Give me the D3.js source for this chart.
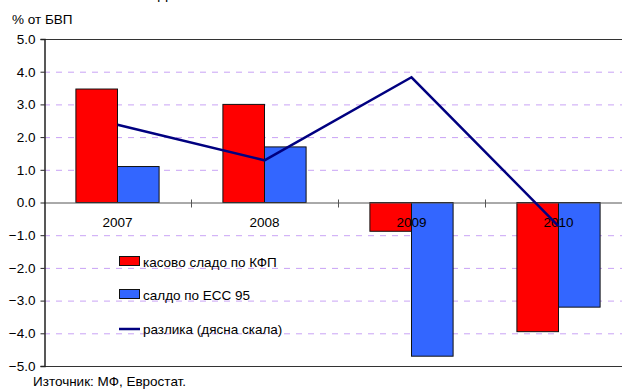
<!DOCTYPE html>
<html>
<head>
<meta charset="utf-8">
<script src="https://cdn.jsdelivr.net/npm/d3@7"></script>
<style>
  body { margin: 0; background: #fff; }
  svg { display: block; font-family: "Liberation Sans", Arial, sans-serif; }
</style>
</head>
<body>
<div id="wrapper"></div>
<script>
// data
const years = ["2007", "2008", "2009", "2010"]
const cashBalance = [3.47, 3.0, -0.88, -3.95]
const esaBalance = [1.1, 1.7, -4.7, -3.2]
const difference = [2.38, 1.29, 3.83, -0.72]
const yTicks = [5, 4, 3, 2, 1, 0, -1, -2, -3, -4, -5]
const legendLabels = ["касово сладо по КФП", "салдо по ЕСС 95", "разлика (дясна скала)"]

const width = 622
const height = 389
const margin = {top: 39, left: 44, bottom: 23}
const plotRight = 632
const fontSize = "13.5px"

const svg = d3.select("#wrapper").append("svg")
    .attr("width", width)
    .attr("height", height)

const yScale = d3.scaleLinear()
    .domain([-5, 5])
    .range([height - margin.bottom, margin.top])

const xScale = d3.scaleBand()
    .domain(years)
    .range([margin.left, plotRight])

const barW = 41.6
const innerX = d3.scaleBand()
    .domain(["cash", "esa"])
    .range([0, barW * 2])

const groupOffset = (xScale.bandwidth() - barW * 2) / 2

// gridlines
svg.append("g")
  .selectAll("line")
  .data(yTicks.filter(d => d !== 0 && d !== 5 && d !== -5))
  .join("line")
    .attr("x1", margin.left)
    .attr("x2", width)
    .attr("y1", d => yScale(d) + 0.5)
    .attr("y2", d => yScale(d) + 0.5)
    .attr("stroke", "#c9a3f5")
    .attr("stroke-dasharray", "6,6")

// top and bottom border
svg.append("line")
    .attr("x1", margin.left).attr("x2", width)
    .attr("y1", yScale(5) + 0.5).attr("y2", yScale(5) + 0.5)
    .attr("stroke", "#333")
svg.append("line")
    .attr("x1", margin.left).attr("x2", width)
    .attr("y1", yScale(-5) + 0.5).attr("y2", yScale(-5) + 0.5)
    .attr("stroke", "#333")

// bars
const series = [
  {key: "cash", values: cashBalance, color: "#ff0000"},
  {key: "esa", values: esaBalance, color: "#3366ff"}
]
series.forEach(s => {
  svg.append("g")
    .selectAll("rect")
    .data(years)
    .join("rect")
      .attr("x", (d) => xScale(d) + groupOffset + innerX(s.key))
      .attr("y", (d, i) => yScale(Math.max(0, s.values[i])))
      .attr("width", innerX.bandwidth())
      .attr("height", (d, i) => Math.abs(yScale(s.values[i]) - yScale(0)))
      .attr("fill", s.color)
      .attr("stroke", "#111")
      .attr("stroke-width", 1)
})

// zero line with category ticks
svg.append("line")
    .attr("x1", margin.left).attr("x2", width)
    .attr("y1", yScale(0) + 0.5).attr("y2", yScale(0) + 0.5)
    .attr("stroke", "#555")
svg.append("g")
  .selectAll("line")
  .data(years.slice(1))
  .join("line")
    .attr("x1", d => Math.round(xScale(d)) + 0.5)
    .attr("x2", d => Math.round(xScale(d)) + 0.5)
    .attr("y1", yScale(0) - 3)
    .attr("y2", yScale(0) + 5)
    .attr("stroke", "#555")

// category labels
svg.append("g")
  .selectAll("text")
  .data(years)
  .join("text")
    .attr("x", d => xScale(d) + xScale.bandwidth() / 2)
    .attr("y", yScale(0) + 24)
    .attr("text-anchor", "middle")
    .style("font-size", fontSize)
    .attr("fill", "#000")
    .text(d => d)

// difference line
const line = d3.line()
    .x((d, i) => xScale(years[i]) + xScale.bandwidth() / 2)
    .y(d => yScale(d))
svg.append("path")
    .datum(difference)
    .attr("d", line)
    .attr("fill", "none")
    .attr("stroke", "#000080")
    .attr("stroke-width", 2.5)

// left axis
const yAxis = d3.axisLeft(yScale)
    .tickValues(yTicks)
    .tickSize(4)
    .tickFormat(d3.format(".1f"))
const axisG = svg.append("g")
    .attr("transform", `translate(${margin.left + 0.5},0)`)
    .call(yAxis)
axisG.select(".domain").attr("stroke", "#222").attr("stroke-width", 1.5)
axisG.selectAll(".tick line").attr("stroke", "#222")
axisG.selectAll(".tick text")
    .attr("x", -9)
    .style("font-size", fontSize)
    .style("font-family", "Liberation Sans, Arial, sans-serif")
    .attr("fill", "#000")

// unit label
svg.append("text")
    .attr("x", 12)
    .attr("y", 24)
    .style("font-size", fontSize)
    .text("% от БВП")

// title (mostly cut off at the top edge, as in the source)
svg.append("text")
    .attr("x", 158)
    .attr("y", -1)
    .style("font-size", "14px")
    .text("Д")

// legend
const legend = svg.append("g")
    .attr("transform", "translate(119,0)")
const legendY = [262, 295, 329]
legendLabels.forEach((label, i) => {
  if (i < 2) {
    legend.append("rect")
      .attr("x", 0.5)
      .attr("y", legendY[i] - 5.5)
      .attr("width", 20)
      .attr("height", 9)
      .attr("fill", series[i].color)
      .attr("stroke", "#111")
  } else {
    legend.append("line")
      .attr("x1", 0).attr("x2", 21)
      .attr("y1", legendY[i]).attr("y2", legendY[i])
      .attr("stroke", "#000080")
      .attr("stroke-width", 2.5)
  }
  legend.append("text")
    .attr("x", 24)
    .attr("y", legendY[i] + 5)
    .style("font-size", fontSize)
    .text(label)
})

// source note
svg.append("text")
    .attr("x", 33)
    .attr("y", 386)
    .style("font-size", fontSize)
    .text("Източник: МФ, Евростат.")
</script>
</body>
</html>
